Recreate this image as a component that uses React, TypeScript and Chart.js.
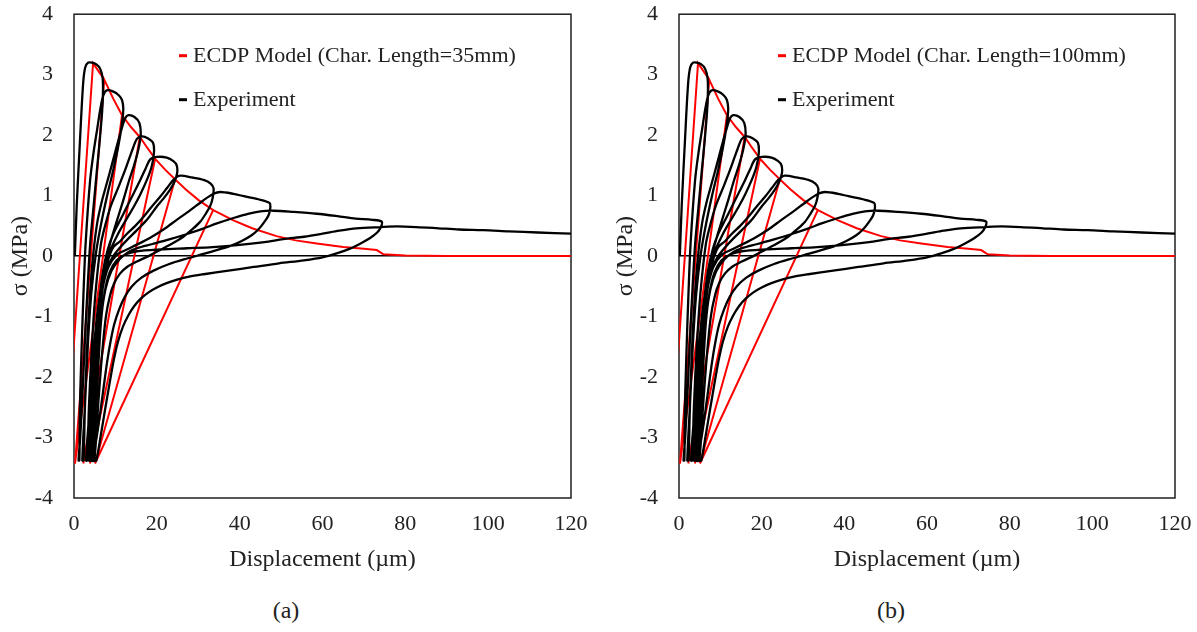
import React, { useEffect, useRef } from 'react';
import { Chart, registerables } from 'chart.js';

Chart.register(...registerables);

const FONT = "'Liberation Serif', 'Times New Roman', serif";
const TEXT = '#222222';

type P = [number, number];

const xTickValues = [0, 20, 40, 60, 80, 100, 120];
const yTickValues = [-4, -3, -2, -1, 0, 1, 2, 3, 4];
const xTitle = 'Displacement (µm)';
const yTitle = 'σ (MPa)';
const modelLabelA = 'ECDP Model (Char. Length=35mm)';
const modelLabelB = 'ECDP Model (Char. Length=100mm)';
const expLabel = 'Experiment';

// ECDP model path (envelope + unloading / reloading lines)
const modelPath: P[] = [
  [-2.0, -3.42], [4.6, 3.19],
  [6.0, 3.05], [7.3, 2.92],
  [0.24, -3.43], [7.3, 2.92],
  [9.5, 2.6], [11.6, 2.33],
  [0.24, -3.43], [11.6, 2.33],
  [13.8, 2.13], [15.9, 1.97],
  [2.25, -3.43], [15.9, 1.97],
  [17.8, 1.78], [19.6, 1.61],
  [3.86, -3.43], [19.6, 1.61],
  [22.0, 1.43], [24.4, 1.27],
  [5.07, -3.43], [24.4, 1.27],
  [27.0, 1.1], [30.0, 0.93], [33.6, 0.76],
  [5.07, -3.43], [33.6, 0.76],
  [38.5, 0.59], [43.0, 0.46], [48.9, 0.33], [53.5, 0.26], [58.6, 0.21],
  [65.0, 0.15], [70.0, 0.12], [73.1, 0.1], [74.7, 0.03], [80.0, 0.01],
  [90.0, 0.0], [120.0, 0.0],
];

// Experiment: successive cycles
const expLoop1: P[] = [
  [0.2, 0], [0.65, 0.82], [1.45, 1.92], [2.2, 2.85], [2.7, 3.12], [3.4, 3.2],
  [4.3, 3.2], [5.4, 3.17], [6.3, 3.1], [6.9, 2.95], [7.0, 2.72], [6.8, 2.4],
  [6.2, 1.9], [5.5, 1.4], [4.7, 0.8], [3.9, 0.2], [3.3, -0.5], [2.7, -1.3],
  [2.1, -2.2], [1.5, -3.0], [1.1, -3.38],
];
const expLoop2: P[] = [
  [1.3, -3.38], [1.4, -2.6], [1.8, -1.6], [2.3, -0.6], [2.8, 0.2], [3.9, 1.26],
  [4.8, 1.75], [5.6, 2.1], [6.4, 2.45], [7.1, 2.66], [7.9, 2.74], [9.5, 2.72],
  [10.8, 2.66], [11.6, 2.58], [11.9, 2.42], [11.4, 2.1], [10.5, 1.75], [9.4, 1.4],
  [8.0, 1.0], [6.6, 0.55], [5.3, 0.05], [4.2, -0.6], [3.4, -1.4], [2.7, -2.4],
  [2.0, -3.38],
];
const expLoop3: P[] = [
  [2.3, -3.38], [2.6, -2.6], [3.1, -1.6], [3.8, -0.7], [4.6, 0.0], [5.6, 0.55],
  [6.7, 0.9], [7.9, 1.2], [9.1, 1.5], [10.3, 1.81], [11.4, 2.08], [12.3, 2.27],
  [13.1, 2.33], [14.6, 2.3], [15.8, 2.2], [16.1, 2.0], [15.5, 1.75], [14.5, 1.5],
  [13.3, 1.25], [11.8, 0.9], [10.2, 0.55], [8.6, 0.18], [7.2, -0.25], [5.8, -0.85],
  [4.7, -1.6], [3.8, -2.5], [2.9, -3.38],
];
const expLoop4: P[] = [
  [3.2, -3.38], [3.6, -2.5], [4.3, -1.5], [5.2, -0.6], [6.5, 0.2], [7.7, 0.55],
  [9.0, 0.85], [10.9, 1.17], [12.6, 1.47], [14.0, 1.74], [15.2, 1.94], [16.4, 1.98],
  [17.8, 1.95], [19.1, 1.87], [19.3, 1.7], [18.7, 1.47], [17.6, 1.26], [16.0, 1.02],
  [14.3, 0.8], [12.4, 0.58], [10.5, 0.35], [8.8, 0.1], [7.4, -0.2], [6.2, -0.65],
  [5.2, -1.35], [4.4, -2.3], [3.6, -3.38],
];
const expLoop5: P[] = [
  [3.9, -3.38], [4.3, -2.5], [5.0, -1.6], [5.9, -0.85], [7.0, -0.25], [8.2, 0.12],
  [9.5, 0.37], [11.2, 0.6], [12.8, 0.82], [14.5, 1.05], [16.0, 1.26], [17.3, 1.45],
  [18.4, 1.6], [20.0, 1.64], [22.4, 1.63], [24.0, 1.57], [24.8, 1.5], [24.9, 1.37],
  [24.2, 1.22], [23.2, 1.1], [21.6, 0.95], [20.0, 0.82], [17.6, 0.6], [15.2, 0.43],
  [13.0, 0.28], [11.1, 0.14], [9.3, -0.02], [7.9, -0.22], [6.9, -0.55], [6.0, -1.1],
  [5.2, -1.9], [4.5, -2.7], [4.0, -3.38],
];
const expLoop6: P[] = [
  [4.3, -3.38], [4.7, -2.5], [5.3, -1.6], [6.1, -0.9], [7.1, -0.4], [8.3, -0.05],
  [9.5, 0.15], [11.2, 0.25], [12.8, 0.37], [14.8, 0.5], [16.8, 0.65], [18.8, 0.82],
  [20.8, 0.98], [22.5, 1.13], [24.0, 1.26], [25.6, 1.33], [28.5, 1.3], [31.3, 1.26],
  [33.0, 1.2], [33.7, 1.12], [33.5, 0.97], [32.9, 0.83], [31.8, 0.7], [30.5, 0.57],
  [28.5, 0.44], [26.4, 0.32], [23.5, 0.2], [20.8, 0.1], [18.0, 0.0], [15.2, -0.09],
  [12.8, -0.18], [11.1, -0.29], [9.7, -0.45], [8.7, -0.65], [7.7, -1.0], [6.8, -1.6],
  [5.9, -2.4], [4.9, -3.38],
];
const expLoop7: P[] = [
  [4.2, -3.38], [4.6, -2.5], [5.2, -1.6], [6.0, -0.95], [7.0, -0.5], [8.3, -0.18],
  [10.3, 0.02], [12.5, 0.1], [15.2, 0.19], [18.3, 0.3], [21.6, 0.44], [24.8, 0.6],
  [28.1, 0.76], [31.2, 0.92], [33.7, 1.03], [35.3, 1.06], [38.5, 1.03], [41.0, 0.99],
  [44.5, 0.94], [47.2, 0.88], [47.4, 0.8], [47.0, 0.68], [45.8, 0.55], [44.5, 0.44],
  [42.8, 0.34], [40.5, 0.25], [37.8, 0.17], [35.0, 0.11], [31.5, 0.04], [27.3, -0.04],
  [23.0, -0.13], [19.2, -0.24], [16.2, -0.36], [14.0, -0.5], [12.3, -0.67], [10.9, -0.88],
  [9.7, -1.13], [8.8, -1.42], [8.0, -1.75], [7.0, -2.25], [5.8, -2.85], [4.6, -3.38],
];
const expLoop8: P[] = [
  [4.8, -3.38], [5.1, -2.7], [5.7, -1.8], [6.5, -1.05], [7.6, -0.55], [9.0, -0.25],
  [11.0, -0.05], [13.2, 0.07], [15.2, 0.13], [19.0, 0.2], [23.2, 0.28], [27.5, 0.37],
  [31.0, 0.45], [34.5, 0.54], [38.5, 0.63], [42.0, 0.7], [45.0, 0.74], [48.2, 0.75],
  [53.0, 0.73], [58.6, 0.7], [63.6, 0.66], [68.0, 0.62], [72.0, 0.6], [74.3, 0.57],
  [74.1, 0.48], [73.2, 0.39], [71.5, 0.3], [69.2, 0.21], [66.5, 0.12], [63.6, 0.05],
  [60.0, -0.02], [55.5, -0.07], [49.5, -0.12], [43.4, -0.18], [37.3, -0.24], [31.3, -0.3],
  [27.8, -0.34], [24.9, -0.39], [22.2, -0.45], [20.0, -0.52], [18.0, -0.6], [16.2, -0.7],
  [14.6, -0.82], [13.2, -0.97], [11.8, -1.17], [10.6, -1.42], [9.6, -1.72], [8.6, -2.1],
  [7.6, -2.5], [6.5, -2.95], [5.4, -3.38],
];
const expTail: P[] = [
  [5.0, -3.38], [5.3, -2.6], [5.8, -1.9], [6.5, -1.1], [7.4, -0.6], [8.6, -0.27],
  [10.3, -0.07], [12.5, 0.03], [15.2, 0.08], [21.0, 0.11], [27.3, 0.13], [33.5, 0.15],
  [39.4, 0.18], [46.0, 0.23], [50.5, 0.28], [55.5, 0.32], [60.0, 0.37], [64.0, 0.42],
  [68.2, 0.46], [74.0, 0.48], [78.0, 0.49], [82.7, 0.48], [88.0, 0.46], [93.0, 0.44],
  [98.8, 0.43], [105.0, 0.41], [112.0, 0.39], [120.0, 0.37],
];

const experimentPath: P[] = [
  ...expLoop1, ...expLoop2, ...expLoop3, ...expLoop4, ...expLoop5,
  ...expLoop6, ...expLoop7, ...expLoop8, ...expTail,
];

const toXY = (pts: P[]) => pts.map(([x, y]) => ({ x, y }));

type PanelProps = {
  left: number;
  width: number;
  axisWidth: number;
  rightPad: number;
  modelLabel: string;
  legendDx: number;
};

const CANVAS_TOP = -20;
const CANVAS_H = 600;

function Panel({ left, width, axisWidth, rightPad, modelLabel, legendDx }: PanelProps) {
  const ref = useRef<HTMLCanvasElement | null>(null);

  useEffect(() => {
    if (!ref.current) return;

    const framePlugin = {
      id: 'frameBox',
      beforeDatasetsDraw(chart: any) {
        const { ctx, chartArea: a } = chart;
        ctx.save();
        ctx.strokeStyle = '#1f1f1f';
        ctx.lineWidth = 1.5;
        ctx.strokeRect(a.left, a.top, a.right - a.left, a.bottom - a.top);
        ctx.restore();
      },
    };

    const legendPlugin = {
      id: 'inlineLegend',
      afterDatasetsDraw(chart: any) {
        const { ctx, chartArea: a } = chart;
        ctx.save();
        chart.data.datasets.forEach((ds: any, i: number) => {
          const y = a.top + 41.5 + i * 44;
          ctx.fillStyle = ds.borderColor;
          ctx.fillRect(a.left + legendDx, y - 1.5, 8, 3);
          ctx.fillStyle = TEXT;
          ctx.font = `22px ${FONT}`;
          ctx.textBaseline = 'middle';
          ctx.textAlign = 'left';
          ctx.fillText(ds.label, a.left + legendDx + 14, y + 1);
        });
        ctx.restore();
      },
    };

    const chart = new Chart(ref.current, {
      type: 'scatter',
      data: {
        datasets: [
          {
            label: modelLabel,
            data: toXY(modelPath),
            showLine: true,
            borderColor: '#ff0000',
            backgroundColor: '#ff0000',
            borderWidth: 2,
            pointRadius: 0,
            tension: 0,
            order: 1,
          },
          {
            label: expLabel,
            data: toXY(experimentPath),
            showLine: true,
            borderColor: '#000000',
            backgroundColor: '#000000',
            borderWidth: 2.3,
            pointRadius: 0,
            tension: 0.3,
            order: 0,
          },
        ],
      },
      options: {
        animation: false,
        responsive: false,
        events: [],
        layout: { padding: { left: 0, top: 0, right: rightPad, bottom: 0 } },
        plugins: {
          legend: { display: false },
          tooltip: { enabled: false },
        },
        scales: {
          x: {
            type: 'linear',
            min: 0,
            max: 120,
            afterBuildTicks: (s: any) => {
              s.ticks = xTickValues.map((v) => ({ value: v }));
            },
            afterFit: (s: any) => {
              s.height = 82;
            },
            grid: { display: false, drawTicks: false },
            border: { display: false },
            ticks: {
              font: { family: FONT, size: 22 },
              color: TEXT,
              padding: 13,
              maxRotation: 0,
              autoSkip: false,
              callback: (v: any) => String(v),
            },
            title: {
              display: true,
              text: xTitle,
              font: { family: FONT, size: 24 },
              color: TEXT,
              padding: { top: 0, bottom: 6 },
            },
          },
          y: {
            type: 'linear',
            min: -4,
            max: 4,
            afterBuildTicks: (s: any) => {
              s.ticks = yTickValues.map((v) => ({ value: v }));
            },
            afterFit: (s: any) => {
              s.width = axisWidth;
            },
            grid: {
              display: true,
              drawTicks: false,
              lineWidth: 1.5,
              color: (c: any) => (c.tick && c.tick.value === 0 ? '#000000' : 'rgba(0,0,0,0)'),
            },
            border: { display: false },
            ticks: {
              font: { family: FONT, size: 22 },
              color: TEXT,
              padding: 21,
              autoSkip: false,
              callback: (v: any) => String(v),
            },
            title: {
              display: true,
              text: yTitle,
              font: { family: FONT, size: 24 },
              color: TEXT,
              padding: { top: 6 + (axisWidth - 74), bottom: 0 },
            },
          },
        },
      },
      plugins: [framePlugin, legendPlugin],
    } as any);

    return () => chart.destroy();
  }, [modelLabel, legendDx, rightPad, axisWidth]);

  return (
    <canvas
      ref={ref}
      width={width}
      height={CANVAS_H}
      style={{ position: 'absolute', left, top: CANVAS_TOP, width, height: CANVAS_H }}
    />
  );
}

const captionStyle = (cx: number): React.CSSProperties => ({
  position: 'absolute',
  left: cx,
  top: 595,
  transform: 'translateX(-50%)',
  fontFamily: FONT,
  fontSize: 24,
  lineHeight: '30px',
  color: TEXT,
  whiteSpace: 'nowrap',
});

export default function App() {
  return (
    <div
      style={{
        position: 'fixed',
        left: 0,
        top: 0,
        width: 1197,
        height: 632,
        background: '#ffffff',
        overflow: 'hidden',
      }}
    >
      <Panel left={0} width={601} axisWidth={74} rightPad={30} modelLabel={modelLabelA} legendDx={105} />
      <Panel left={605} width={600} axisWidth={74} rightPad={30} modelLabel={modelLabelB} legendDx={99} />
      <div style={captionStyle(286)}>(a)</div>
      <div style={captionStyle(891)}>(b)</div>
    </div>
  );
}
